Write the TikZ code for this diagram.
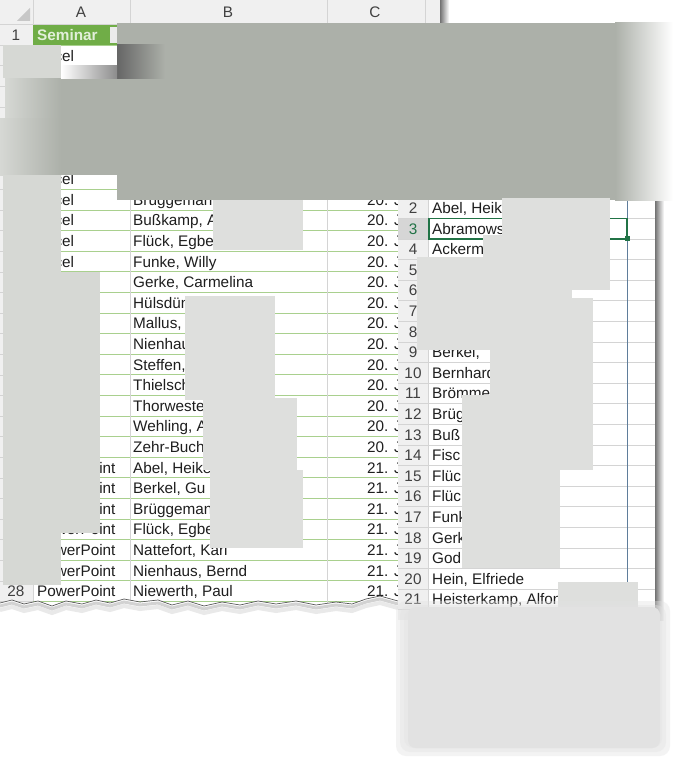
\documentclass[tikz,border=0pt]{standalone}
\usepackage{fontspec}
\setmainfont{Liberation Sans}
\usetikzlibrary{positioning}
\definecolor{blurgray}{RGB}{172,176,169}
\definecolor{blurlight}{RGB}{214,216,212}
\definecolor{patchgray}{RGB}{222,223,221}
\definecolor{softgray}{RGB}{226,226,226}
\definecolor{tablegreen}{RGB}{169,208,142}
\definecolor{headgreen}{RGB}{112,173,71}
\definecolor{headtext}{RGB}{226,239,218}
\definecolor{selgreen}{RGB}{33,115,70}
\definecolor{hdrgray}{RGB}{240,240,240}
\definecolor{gridgray}{RGB}{212,212,212}
\definecolor{paneblue}{RGB}{95,125,155}
\definecolor{celltext}{RGB}{30,30,30}
\tikzset{
  cell/.style={anchor=base west, inner sep=0pt, font=\fontsize{15.3}{18}\selectfont, text=celltext},
  rownum/.style={anchor=base, inner sep=0pt, font=\fontsize{15.3}{18}\selectfont, text=black!75},
  gridline/.style={gridgray, line width=0.8pt},
  tableline/.style={tablegreen, line width=1pt},
}
\def\tearpath{(0,603) -- (12,600) -- (24,604) -- (38,601) -- (52,606) -- (66,601) -- (82,604) -- (96,600) -- (110,603) -- (124,599) -- (140,602) -- (158,600) -- (172,605) -- (188,601) -- (204,606) -- (222,602) -- (240,605) -- (258,601) -- (276,604) -- (296,601) -- (316,605) -- (336,602) -- (352,604) -- (366,599) -- (380,596) -- (398,601)}

\begin{document}
\begin{tikzpicture}[x=1pt, y=-1pt]
  \useasboundingbox (0,0) rectangle (673,768);
  \fill[white] (0,0) rectangle (673,768);

  % Left sheet: column header
  \fill[hdrgray] (0,0) rectangle (440,24.7);
  \fill[black!22] (17,21) -- (30,21) -- (30,8) -- cycle;
  \foreach \x in {33,130,327,425} \draw[gridline] (\x,0) -- (\x,24.7);
  \draw[gridline] (0,24.7) -- (440,24.7);
  \node[rownum] (colA) at (81,17.5) {A};
  \node[rownum] (colB) at (228,17.5) {B};
  \node[rownum] (colC) at (375,17.5) {C};
  \shade[left color=black!55, right color=white] (440,0) rectangle (449,30);

  % Left sheet: row header
  \fill[hdrgray] (0,24.7) rectangle (33,605);
  \draw[gridline] (33,24.7) -- (33,605);
  \foreach \n in {1,...,28} {
    \pgfmathsetmacro\yc{35+(\n-1)*20.6}
    \node[rownum] (row\n) at (16,\yc+5.5) {\n};
    \draw[gridline] (0,\yc+10.3) -- (33,\yc+10.3);
  }

  % Header cell
  \fill[headgreen] (33,24.7) rectangle (117,45.3);
  \node[cell, font=\fontsize{15.3}{18}\selectfont\bfseries, text=headtext] (seminar) at (37,40.5) {Seminar};
  \fill[white!92!black] (110,27) rectangle (117,43.5);

  % Table lines
  \foreach \k in {1,...,28} \draw[tableline] (33,24.7+\k*20.6) -- (398,24.7+\k*20.6);
  \draw[gridline] (130,45.3) -- (130,605);
  \draw[gridline] (327,45.3) -- (327,605);

  % Column A
  \foreach \n in {2,8,9,...,21} {
    \pgfmathsetmacro\yc{35+(\n-1)*20.6}
    \node[cell] (a\n) at (36.5,\yc+5.5) {Excel};
  }
  \foreach \n in {22,...,28} {
    \pgfmathsetmacro\yc{35+(\n-1)*20.6}
    \node[cell] (a\n) at (37,\yc+5.5) {PowerPoint};
  }

  % Column B
  \foreach \n/\name in {9/Brüggeman, 10/{Bußkamp, A}, 11/{Flück, Egbe}, 12/{Funke, Willy},
      13/{Gerke, Carmelina}, 14/Hülsdün, 15/{Mallus,}, 16/Nienhau, 17/{Steffen,}, 18/Thielsch,
      19/Thorweste, 20/{Wehling, A}, 21/Zehr-Buch, 22/{Abel, Heike}, 23/{Berkel, Gu},
      24/Brüggeman, 25/{Flück, Egbe}, 26/{Nattefort, Karl}, 27/{Nienhaus, Bernd}, 28/{Niewerth, Paul}} {
    \pgfmathsetmacro\yc{35+(\n-1)*20.6}
    \node[cell] (b\n) at (133,\yc+5.5) {\name};
  }

  % Column C
  \foreach \n in {9,...,21} {
    \pgfmathsetmacro\yc{35+(\n-1)*20.6}
    \node[cell] (c\n) at (367,\yc+5.5) {20. J};
  }
  \foreach \n in {22,...,28} {
    \pgfmathsetmacro\yc{35+(\n-1)*20.6}
    \node[cell] (c\n) at (367,\yc+5.5) {21. J};
  }

  % Torn edge
  \fill[white] \tearpath -- (398,660) -- (0,660) -- cycle;
  \draw[black!25, line width=3pt, opacity=0.7, yshift=-3pt] \tearpath;
  \draw[black!12, line width=4pt, opacity=0.7, yshift=-7pt] \tearpath;
  \draw[black!65, line width=0.7pt] \tearpath;

  % Right sheet
  \fill[white] (398,197.7) rectangle (656,620);
  \fill[hdrgray] (398,197.7) rectangle (428,620);
  \fill[black!16] (398,218.3) rectangle (428,238.9);
  \foreach \k in {0,...,20} \draw[gridline] (398,197.7+\k*20.6) -- (656,197.7+\k*20.6);
  \draw[gridline] (428,197.7) -- (428,620);
  \draw[paneblue, line width=0.8pt] (627,197.7) -- (627,620);
  \shade[left color=black!55, right color=white] (655,197.7) rectangle (664,620);
  \node[rownum] (rnum2) at (413,213.5) {2};
  \node[rownum, text=selgreen] (rnum3) at (413,234.1) {3};
  \foreach \n in {4,...,21} {
    \pgfmathsetmacro\yc{208+(\n-2)*20.6}
    \node[rownum] (rnum\n) at (413,\yc+5.5) {\n};
  }
  \foreach \n/\name in {2/{Abel, Heik}, 3/Abramows, 4/Ackerm, 9/{Berkel,}, 10/Bernhardt, 11/Brömmel,
      12/Brüg, 13/Buß, 14/Fisc, 15/Flüc, 16/Flüc, 17/Funk, 18/Gerk, 19/God,
      20/{Hein, Elfriede}, 21/{Heisterkamp, Alfon}} {
    \pgfmathsetmacro\yc{208+(\n-2)*20.6}
    \node[cell] (name\n) at (432,\yc+5.5) {\name};
  }

  % Selected cell
  \draw[selgreen, line width=1.6pt] (429,218.3) rectangle (627,238.9);
  \fill[selgreen] (624.5,236.4) rectangle (629.5,241.4);

  % Blurred patches, top
  \fill[blurgray] (117,23) rectangle (615,200);
  \fill[blurgray] (61,78) rectangle (615,175);
  \shade[left color=blurgray, right color=white] (615,23) rectangle (673,200);
  \shade[left color=blurlight, right color=blurgray] (5,78) rectangle (61,118);
  \shade[left color=blurlight, right color=blurgray] (0,118) rectangle (61,175);
  \shade[left color=black!60, right color=blurgray] (117,45) rectangle (165,78);
  \shade[left color=white, right color=black!45] (61,66) rectangle (117,78);

  % Blurred patches, left sheet
  \fill[blurlight] (3,45.5) rectangle (61,78);
  \fill[blurlight] (3,175) rectangle (61,272);
  \fill[blurlight] (3,272) rectangle (100,533);
  \fill[blurlight] (3,533) rectangle (61,585);
  \fill[patchgray] (213,200) rectangle (303,250);
  \fill[patchgray] (185,296) rectangle (275,400);
  \fill[patchgray] (203,398) rectangle (297,470);
  \fill[patchgray] (210,470) rectangle (303,548);

  % Blurred patches, right sheet
  \fill[patchgray] (502,198) rectangle (610,290);
  \fill[patchgray] (483,235) rectangle (572,298);
  \fill[patchgray] (417,257) rectangle (490,350);
  \fill[patchgray] (490,298) rectangle (593,395);
  \fill[patchgray] (462,395) rectangle (593,470);
  \fill[patchgray] (462,470) rectangle (560,568);
  \fill[patchgray] (558,582) rectangle (638,660);
  \foreach \d in {0,4,8}
    \fill[softgray, opacity=0.4, rounded corners=10pt] (396+\d,601+\d) rectangle (670-\d,756-\d);
  \fill[softgray, rounded corners=8pt] (408,607) rectangle (660,748);
\end{tikzpicture}
\end{document}
